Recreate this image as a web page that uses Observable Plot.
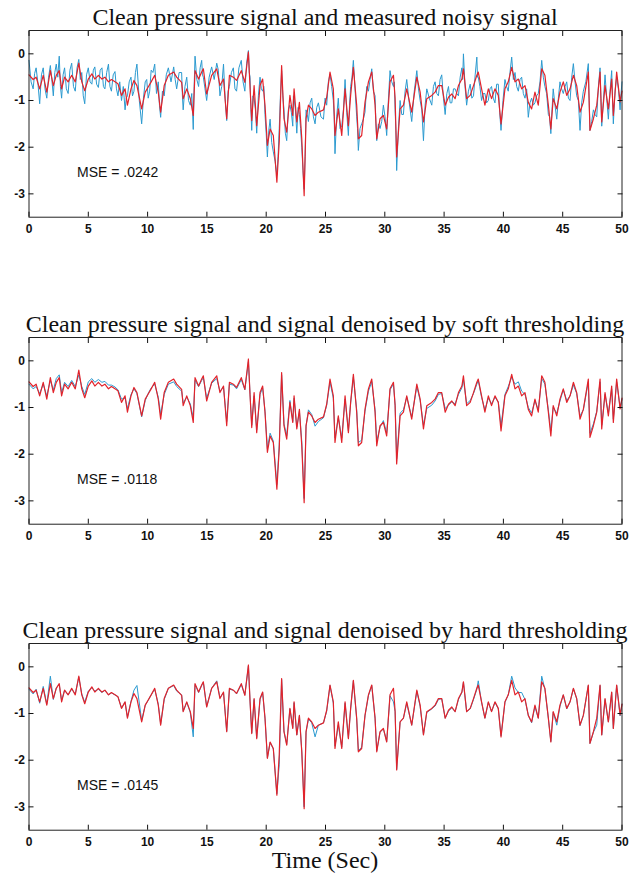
<!DOCTYPE html>
<html>
<head>
<meta charset="utf-8">
<script src="https://cdn.jsdelivr.net/npm/d3@7"></script>
<script src="https://cdn.jsdelivr.net/npm/@observablehq/plot@0.6"></script>
<style>
  html, body { margin: 0; padding: 0; background: #fff; }
  #root { position: relative; width: 636px; height: 876px; overflow: hidden; background: #fff; }
  .title { position: absolute; left: 0; width: 650px; text-align: center;
           font-family: "Liberation Serif", "Times New Roman", serif; font-size: 24px;
           line-height: 28px; color: #111; white-space: nowrap; }
  .panel { position: absolute; left: 0; }
</style>
</head>
<body>
<div id="root"></div>
<script>
// ---- data ----
const titles = [
  "Clean pressure signal and measured noisy signal",
  "Clean pressure signal and signal denoised by soft thresholding",
  "Clean pressure signal and signal denoised by hard thresholding"
];
const mseLabels = ["MSE = .0242", "MSE = .0118", "MSE = .0145"];
const xLabel = "Time (Sec)";
const xTicks = [0, 5, 10, 15, 20, 25, 30, 35, 40, 45, 50];
const yTicks = [0, -1, -2, -3];

const timeSec = [
  0, 0.35, 0.6, 0.9, 1.2, 1.5, 1.8, 2.05, 2.3, 2.55,
  2.75, 3.0, 3.3, 3.6, 3.9, 4.2, 4.45, 4.7, 5.0, 5.3,
  5.55, 5.85, 6.15, 6.4, 6.7, 6.95, 7.25, 7.5, 7.8, 8.1,
  8.3, 8.6, 8.85, 9.1, 9.5, 9.8, 10.05, 10.3, 10.6, 10.9,
  11.1, 11.4, 11.75, 12.2, 12.45, 12.87, 13.0, 13.3, 13.6, 13.85,
  14.0, 14.3, 14.56, 14.7, 14.98, 15.4, 15.83, 16.1, 16.4, 16.67,
  16.9, 17.23, 17.5, 17.9, 18.2, 18.5, 18.64, 18.78, 18.98, 19.2,
  19.48, 19.7, 19.9, 20.1, 20.33, 20.6, 20.9, 21.1, 21.3, 21.5,
  21.73, 22.0, 22.24, 22.35, 22.58, 22.8, 23.0, 23.2, 23.36, 23.56,
  23.84, 24.12, 24.4, 24.83, 25.1, 25.38, 25.66, 25.8, 26.08, 26.37,
  26.65, 26.93, 27.12, 27.35, 27.63, 27.77, 28.05, 28.33, 28.62, 28.9,
  29.18, 29.32, 29.6, 29.88, 30.16, 30.44, 30.73, 30.87, 31.0, 31.29,
  31.57, 31.85, 32.27, 32.7, 32.98, 33.26, 33.54, 33.96, 34.24, 34.52,
  34.8, 35.09, 35.37, 35.65, 35.93, 36.21, 36.5, 36.63, 36.9, 37.2,
  37.48, 37.76, 37.88, 38.16, 38.44, 38.73, 39.0, 39.29, 39.57, 39.8,
  40.13, 40.41, 40.7, 40.98, 41.26, 41.54, 41.82, 42.1, 42.38, 42.66,
  42.94, 43.23, 43.5, 43.79, 44.0, 44.2, 44.5, 44.77, 45.05, 45.34,
  45.62, 45.9, 46.18, 46.46, 46.74, 47.16, 47.3, 47.59, 47.87, 48.15,
  48.29, 48.57, 48.85, 49.13, 49.27, 49.55, 49.84, 50.0
];

const cleanSignal = [
  -0.45, -0.55, -0.5, -0.75, -0.46, -0.82, -0.36, -0.68, -0.46, -0.36,
  -0.75, -0.5, -0.6, -0.46, -0.6, -0.2, -0.6, -0.79, -0.54, -0.43,
  -0.54, -0.46, -0.54, -0.5, -0.6, -0.55, -0.6, -0.64, -0.89, -0.75,
  -1.1, -0.75, -0.57, -0.68, -1.18, -0.82, -0.71, -0.6, -0.46, -0.82,
  -1.25, -0.68, -0.46, -0.39, -0.5, -0.61, -0.96, -0.75, -0.96, -1.32,
  -0.36, -0.54, -0.39, -0.32, -0.86, -0.46, -0.32, -0.68, -0.54, -1.39,
  -0.46, -0.5, -0.57, -0.36, -0.61, 0.04, -0.75, -1.43, -0.68, -1.54,
  -0.68, -0.54, -1.1, -1.96, -1.61, -1.75, -2.75, -1.88, -0.25, -1.39,
  -1.68, -0.89, -1.32, -0.75, -1.46, -1.04, -1.82, -3.04, -1.39, -1.1,
  -1.18, -1.32, -1.25, -1.2, -0.93, -0.39, -0.75, -1.75, -1.18, -1.75,
  -0.75, -1.54, -0.89, -0.29, -1.1, -1.82, -1.75, -1.04, -0.6, -0.39,
  -1.1, -1.82, -1.39, -1.32, -1.61, -0.6, -0.46, -0.96, -2.21, -1.18,
  -1.1, -0.75, -1.25, -0.5, -0.82, -1.46, -0.96, -0.89, -0.82, -0.68,
  -0.68, -1.1, -0.93, -0.86, -0.96, -0.68, -0.54, -0.32, -0.96, -0.89,
  -0.68, -0.46, -0.39, -0.75, -1.1, -0.75, -0.96, -0.75, -0.89, -1.5,
  -0.75, -0.6, -0.29, -0.6, -0.54, -0.75, -0.68, -1.04, -1.18, -0.82,
  -1.1, -0.32, -0.46, -1.1, -1.61, -0.96, -1.18, -0.82, -0.6, -0.89,
  -0.75, -0.46, -0.68, -1.25, -1.04, -0.39, -1.64, -1.39, -1.1, -0.39,
  -1.46, -0.68, -1.18, -0.54, -1.32, -0.39, -1.03, -0.8
];

// measured noisy signal: samples at the times above ...
const noisySignal = [
  -0.14, -0.75, -0.3, -1.07, -0.3, -0.95, -0.25, -0.9, -0.22, -0.05,
  -0.95, -0.3, -0.85, -0.2, -0.8, -0.12, -0.4, -1.07, -0.3, -0.65,
  -0.28, -0.72, -0.3, -0.75, -0.22, -0.8, -0.38, -0.9, -1.0, -1.2,
  -0.9, -0.5, -0.8, -0.22, -1.5, -0.6, -0.95, -0.35, -0.22, -0.6,
  -1.36, -0.9, -0.3, -0.28, -0.75, -0.4, -1.2, -0.5, -1.1, -1.62,
  -0.05, -0.7, -0.14, -0.5, -1.0, -0.28, -0.2, -0.9, -0.22, -1.43,
  -0.7, -0.3, -0.8, -0.14, -0.8, 0.07, -0.5, -1.64, -0.95, -1.7,
  -0.5, -0.8, -1.3, -2.21, -1.4, -2.1, -2.6, -1.6, -0.36, -1.2,
  -1.86, -1.1, -1.55, -0.95, -1.7, -1.3, -2.0, -2.9, -1.2, -1.45,
  -0.95, -1.5, -1.05, -1.4, -1.1, -0.43, -1.0, -2.14, -0.95, -1.55,
  -0.55, -1.75, -0.7, -0.14, -1.35, -2.07, -1.5, -1.25, -0.8, -0.32,
  -0.9, -1.86, -1.6, -1.1, -1.75, -0.36, -0.7, -1.2, -2.5, -1.0,
  -1.3, -0.55, -1.45, -0.36, -1.0, -1.86, -0.75, -1.1, -0.6, -0.9,
  -0.45, -1.3, -0.7, -1.05, -0.75, -0.9, -0.3, 0.0, -1.1, -0.65,
  -0.9, -0.07, -0.5, -1.0, -0.85, -1.0, -0.7, -1.05, -0.65, -1.64,
  -0.55, -0.8, -0.07, -0.4, -0.8, -0.5, -0.95, -1.36, -0.95, -1.05,
  -0.85, -0.14, -0.7, -1.3, -1.71, -0.75, -1.4, -0.6, -0.85, -0.6,
  -1.0, -0.21, -0.9, -1.64, -0.8, -0.21, -1.64, -1.2, -1.35, -0.3,
  -1.55, -0.45, -1.4, -0.36, -1.5, -0.5, -1.2, -0.6
];
// ... and the extra noisy samples half-way between them
const noisyMidSignal = [
  -0.6, -0.42, -0.62, -0.45, -0.75, -0.5, -0.55, -0.4, -0.5, -0.7,
  -0.45, -0.75, -0.35, -0.7, -0.3, -0.55, -0.9, -0.45, -0.6, -0.35,
  -0.65, -0.35, -0.7, -0.4, -0.7, -0.45, -0.75, -0.6, -0.7, -0.95,
  -0.6, -0.9, -0.4, -1.0, -0.95, -0.55, -0.8, -0.4, -0.85, -1.1,
  -0.8, -0.45, -0.6, -0.55, -0.4, -0.9, -0.7, -1.0, -0.85, -0.7,
  -0.55, -0.3, -0.45, -0.75, -0.5, -0.55, -0.35, -0.7, -0.95, -0.8,
  -0.4, -0.75, -0.3, -0.6, -0.2, -0.4, -1.2, -0.9, -1.2, -0.9,
  -0.75, -0.7, -1.7, -1.65, -1.9, -2.3, -2.2, -0.9, -0.9, -1.7,
  -1.2, -1.25, -0.9, -1.2, -1.15, -1.6, -2.5, -2.2, -1.3, -1.05,
  -1.35, -1.15, -1.35, -0.95, -0.6, -0.7, -1.35, -1.35, -1.6, -1.2,
  -1.25, -1.1, -0.5, -0.75, -1.6, -1.6, -1.4, -0.7, -0.55, -0.8,
  -1.5, -1.5, -1.45, -1.35, -1.0, -0.6, -0.6, -1.65, -1.6, -1.3,
  -0.8, -1.05, -0.8, -0.75, -1.2, -1.1, -0.95, -0.7, -0.85, -0.55,
  -0.95, -0.85, -1.05, -0.75, -0.85, -0.5, -0.55, -0.7, -0.8, -0.95,
  -0.45, -0.5, -0.7, -0.85, -1.05, -0.75, -0.95, -0.65, -1.25, -1.0,
  -0.7, -0.4, -0.55, -0.7, -0.55, -0.85, -0.75, -1.05, -1.1, -0.9,
  -0.6, -0.5, -0.85, -1.35, -1.2, -1.1, -0.95, -0.75, -0.7, -0.95,
  -0.5, -0.6, -1.0, -1.05, -0.6, -1.0, -1.45, -1.3, -0.7, -0.95,
  -1.0, -0.95, -0.8, -0.95, -0.8, -0.75, -0.85
];

const softSignal = [
  -0.5, -0.6, -0.55, -0.7, -0.5, -0.75, -0.42, -0.62, -0.38, -0.3,
  -0.68, -0.46, -0.55, -0.42, -0.55, -0.3, -0.55, -0.72, -0.45, -0.38,
  -0.46, -0.4, -0.46, -0.44, -0.52, -0.52, -0.56, -0.62, -0.82, -0.8,
  -1.02, -0.72, -0.6, -0.7, -1.2, -0.85, -0.7, -0.58, -0.5, -0.78,
  -1.15, -0.72, -0.5, -0.45, -0.55, -0.65, -0.9, -0.78, -0.92, -1.22,
  -0.42, -0.55, -0.42, -0.36, -0.8, -0.48, -0.38, -0.65, -0.56, -1.3,
  -0.5, -0.52, -0.6, -0.4, -0.62, -0.02, -0.72, -1.38, -0.75, -1.48,
  -0.72, -0.58, -1.08, -1.88, -1.55, -1.72, -2.65, -1.8, -0.3, -1.35,
  -1.6, -0.85, -1.3, -0.8, -1.42, -1.08, -1.72, -2.95, -1.4, -1.05,
  -1.15, -1.4, -1.3, -1.22, -0.95, -0.45, -0.8, -1.65, -1.22, -1.65,
  -0.82, -1.5, -0.9, -0.35, -1.05, -1.75, -1.7, -1.08, -0.65, -0.45,
  -1.05, -1.72, -1.42, -1.28, -1.55, -0.62, -0.5, -0.95, -2.1, -1.12,
  -1.05, -0.78, -1.2, -0.55, -0.85, -1.38, -1.02, -0.95, -0.86, -0.72,
  -0.7, -1.02, -0.95, -0.88, -0.92, -0.72, -0.58, -0.4, -0.92, -0.85,
  -0.7, -0.5, -0.42, -0.78, -1.05, -0.8, -0.92, -0.78, -0.88, -1.4,
  -0.72, -0.55, -0.35, -0.5, -0.45, -0.65, -0.72, -1.0, -1.12, -0.85,
  -1.05, -0.38, -0.5, -1.05, -1.5, -1.0, -1.12, -0.86, -0.62, -0.85,
  -0.75, -0.52, -0.7, -1.18, -1.05, -0.45, -1.55, -1.35, -1.08, -0.45,
  -1.38, -0.72, -1.12, -0.6, -1.25, -0.45, -1.0, -0.82
];

const hardSignal = [
  -0.48, -0.58, -0.48, -0.78, -0.42, -0.8, -0.2, -0.7, -0.45, -0.38,
  -0.72, -0.5, -0.6, -0.48, -0.58, -0.22, -0.58, -0.76, -0.52, -0.45,
  -0.52, -0.48, -0.55, -0.5, -0.6, -0.56, -0.6, -0.64, -0.88, -0.76,
  -1.08, -0.74, -0.5, -0.4, -1.15, -0.82, -0.72, -0.6, -0.48, -0.8,
  -1.22, -0.7, -0.46, -0.4, -0.52, -0.6, -0.95, -0.76, -0.98, -1.5,
  -0.38, -0.55, -0.4, -0.33, -0.85, -0.46, -0.3, -0.66, -0.55, -1.38,
  -0.48, -0.5, -0.58, -0.38, -0.6, 0.02, -0.75, -1.42, -0.7, -1.52,
  -0.7, -0.55, -1.1, -1.95, -1.62, -1.76, -2.72, -2.1, -0.27, -1.38,
  -1.66, -0.9, -1.3, -0.77, -1.46, -1.05, -1.8, -3.0, -1.4, -1.12,
  -1.2, -1.5, -1.25, -1.2, -0.95, -0.4, -0.78, -1.7, -1.25, -1.72,
  -0.78, -1.52, -0.9, -0.3, -1.12, -1.8, -1.72, -1.05, -0.62, -0.4,
  -1.1, -1.8, -1.4, -1.33, -1.6, -0.62, -0.75, -0.96, -2.2, -1.18,
  -1.1, -0.78, -1.25, -0.52, -0.85, -1.45, -0.98, -0.9, -0.84, -0.7,
  -0.68, -1.1, -0.95, -0.88, -0.96, -0.7, -0.55, -0.33, -0.96, -0.9,
  -0.7, -0.48, -0.3, -0.76, -1.1, -0.76, -0.96, -0.76, -0.9, -1.48,
  -0.76, -0.6, -0.2, -0.45, -0.55, -0.55, -0.7, -1.04, -1.2, -0.85,
  -1.1, -0.2, -0.48, -1.1, -1.6, -0.97, -1.25, -0.85, -0.6, -0.9,
  -0.75, -0.47, -0.68, -1.26, -1.04, -0.4, -1.64, -1.4, -1.25, -0.4,
  -1.46, -0.7, -1.18, -0.55, -1.32, -0.4, -1.05, -0.8
];

// ---- drawing ----
const RED = "#e2232b";
const BLUE = "#2b9ad0";
const root = document.getElementById("root");
const panelTops = [0, 306.7, 612.7];
const titleTops = [3, 309.5, 616];

// noisy series: each sample followed by the mid-interval sample
const noisyRows = [];
timeSec.forEach((t, i) => {
  noisyRows.push({t, v: noisySignal[i]});
  if (i < timeSec.length - 1) noisyRows.push({t: (t + timeSec[i + 1]) / 2, v: noisyMidSignal[i]});
});
const cleanRows = timeSec.map((t, i) => ({t, v: cleanSignal[i]}));
const softRows = timeSec.map((t, i) => ({t, v: softSignal[i]}));
const hardRows = timeSec.map((t, i) => ({t, v: hardSignal[i]}));
const blues = [noisyRows, softRows, hardRows];

function makePanel(blueRows, mseText) {
  return Plot.plot({
    width: 636,
    height: 242,
    marginLeft: 28.5,
    marginRight: 14.5,
    marginTop: 30,
    marginBottom: 25.3,
    x: {domain: [0, 50]},
    y: {domain: [-3.5, 0.5]},
    style: {fontFamily: '"Liberation Sans", Arial, sans-serif', fontSize: "12px", fontWeight: "bold", color: "#111", background: "transparent"},
    marks: [
      Plot.line(blueRows, {x: "t", y: "v", stroke: BLUE, strokeWidth: 1}),
      Plot.line(cleanRows, {x: "t", y: "v", stroke: RED, strokeWidth: 1.2}),
      Plot.frame({stroke: "#222", strokeWidth: 1}),
      Plot.axisX({anchor: "bottom", ticks: xTicks, tickSize: -5, tickPadding: 12, label: null, tickFormat: d => String(d)}),
      Plot.axisX({anchor: "top", ticks: xTicks, tickSize: -5, label: null, tickFormat: () => ""}),
      Plot.axisY({anchor: "left", ticks: yTicks, tickSize: -5, tickPadding: 9, label: null, tickFormat: d => String(d)}),
      Plot.axisY({anchor: "right", ticks: yTicks, tickSize: -5, label: null, tickFormat: () => ""}),
      Plot.text([mseText], {frameAnchor: "bottom-left", dx: 48, dy: -45, textAnchor: "start", lineAnchor: "middle",
        fontSize: 14, fontWeight: "normal", fill: "#111"})
    ]
  });
}

for (let i = 0; i < 3; i++) {
  const t = document.createElement("div");
  t.className = "title";
  t.style.top = titleTops[i] + "px";
  t.textContent = titles[i];
  root.appendChild(t);
  const p = document.createElement("div");
  p.className = "panel";
  p.style.top = panelTops[i] + "px";
  p.appendChild(makePanel(blues[i], mseLabels[i]));
  root.appendChild(p);
}
const xl = document.createElement("div");
xl.className = "title";
xl.style.top = "846px";
xl.textContent = xLabel;
root.appendChild(xl);
</script>
</body>
</html>
